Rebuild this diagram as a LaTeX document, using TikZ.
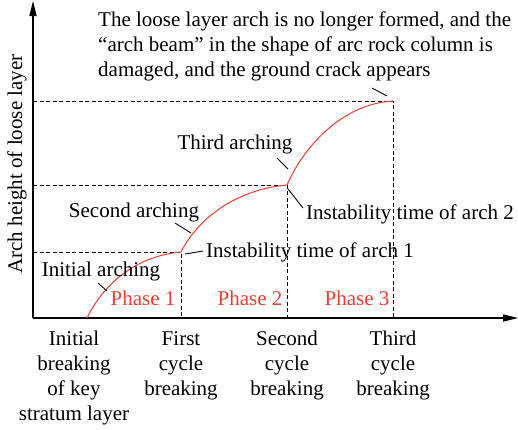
\documentclass[tikz,border=0pt]{standalone}
\usepackage{fontspec}
\setmainfont{Liberation Serif}
\usetikzlibrary{arrows.meta}
\definecolor{phred}{RGB}{232,62,52}
\tikzset{
  lbl/.style={inner sep=0pt, font=\fontsize{21}{25}\selectfont},
  axis/.style={line width=1.4pt, -{Triangle[length=15pt,width=7pt]}},
  guide/.style={dashed, line width=0.9pt, dash pattern=on 4pt off 2.5pt},
  curve/.style={phred, line width=1pt},
  leader/.style={line width=0.9pt},
  phase/.style={lbl, text=phred}
}
\begin{document}
\begin{tikzpicture}[x=1pt,y=-1pt]
\useasboundingbox (0,0) rectangle (518,429);
% coordinates
\coordinate (O) at (33,318);
\coordinate (ytip) at (33,1);
\coordinate (xtip) at (518,318);
\coordinate (s0) at (87,318);
\coordinate (s1) at (181,252);
\coordinate (s2) at (287,185);
\coordinate (s3) at (393,101);
\coordinate (b1) at (181,318);
\coordinate (b2) at (287,318);
\coordinate (b3) at (393,318);
\coordinate (l1) at (33,252);
\coordinate (l2) at (33,185);
\coordinate (l3) at (33,101);
% dashed guides
\draw[guide] (l1) -- (s1) -- (b1);
\draw[guide] (l2) -- (s2) -- (b2);
\draw[guide] (l3) -- (s3) -- (b3);
% axes
\draw[axis] (O) -- (ytip);
\draw[axis] (O) -- (xtip);
% curves
\draw[curve] (s0) .. controls (103,285) and (135,256) .. (s1);
\draw[curve] (s1) .. controls (196,222) and (232,190) .. (s2);
\draw[curve] (s2) .. controls (302,150) and (340,104) .. (s3);
% texts
\node[lbl, anchor=north west, align=left] (top) at (98,12)
 {The loose layer arch is no longer formed, and the\\
  ``arch beam'' in the shape of arc rock column is\\
  damaged, and the ground crack appears};
\node[lbl] (third) at (235,144) {Third arching};
\node[lbl] (second) at (134,212) {Second arching};
\node[lbl, anchor=west] (inst2) at (306,214) {Instability time of arch 2};
\node[lbl, anchor=west] (inst1) at (206,252) {Instability time of arch 1};
\node[lbl] (initial) at (101,271) {Initial arching};
\node[phase] (p1) at (143,298) {Phase 1};
\node[phase] (p2) at (250,298) {Phase 2};
\node[phase] (p3) at (357,298) {Phase 3};
\node[lbl, rotate=90] (ylab) at (17,164) {Arch height of loose layer};
\node[lbl, anchor=north, align=center] (x0) at (74,331) {Initial\\breaking\\of key\\stratum layer};
\node[lbl, anchor=north, align=center] (x1) at (181,331) {First\\cycle\\breaking};
\node[lbl, anchor=north, align=center] (x2) at (287,331) {Second\\cycle\\breaking};
\node[lbl, anchor=north, align=center] (x3) at (393,331) {Third\\cycle\\breaking};
% leaders
\coordinate (t0) at (372,88); \coordinate (t1) at (387,96);
\draw[leader] (t0) -- (t1);
\coordinate (a0) at (277,158); \coordinate (a1) at (288,169);
\draw[leader] (a0) -- (a1);
\coordinate (c0) at (288,189); \coordinate (c1) at (303,208);
\draw[leader] (c0) -- (c1);
\coordinate (d0) at (175,223); \coordinate (d1) at (191,233);
\draw[leader] (d0) -- (d1);
\coordinate (e0) at (185,254); \coordinate (e1) at (203,251);
\draw[leader] (e0) -- (e1);
\coordinate (f0) at (98,283); \coordinate (f1) at (107,291);
\draw[leader] (f0) -- (f1);
\end{tikzpicture}
\end{document}
